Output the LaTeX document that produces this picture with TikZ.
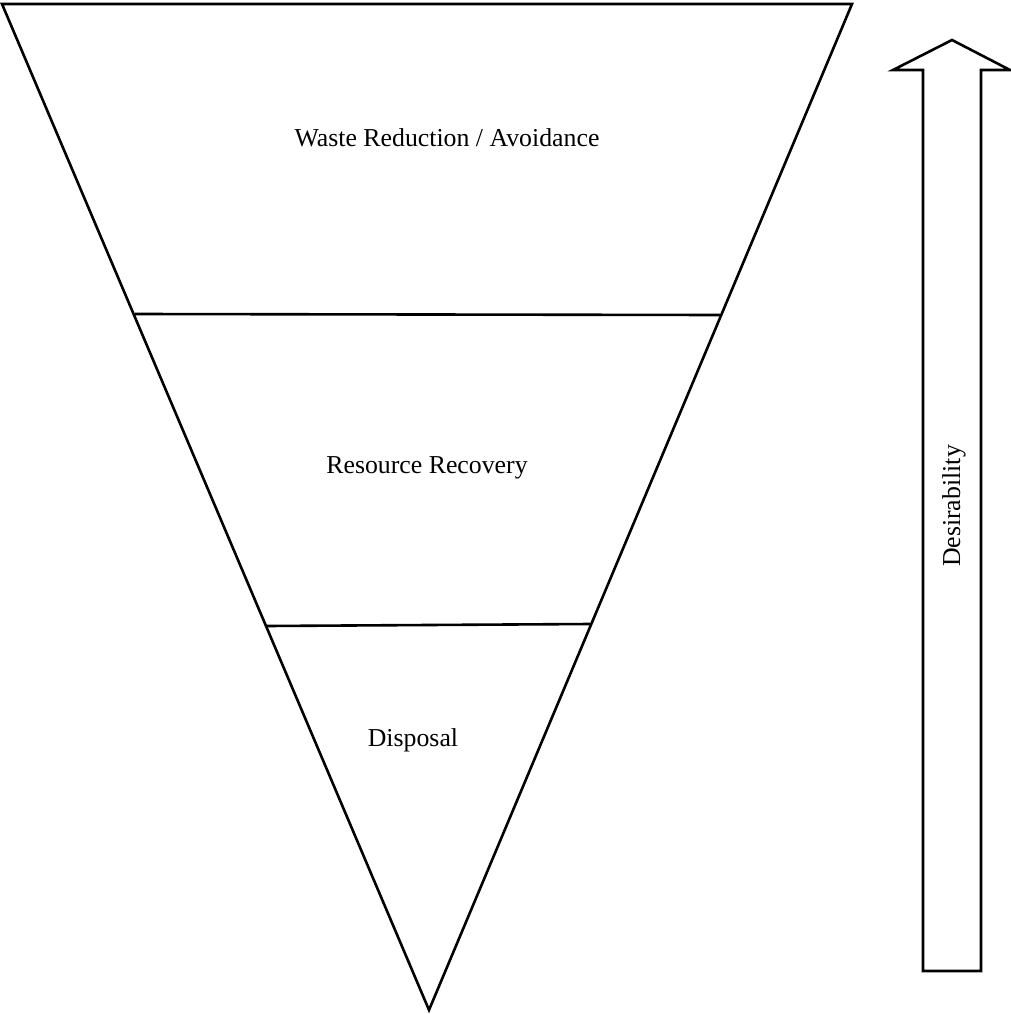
\documentclass[tikz,border=0pt]{standalone}
\usepackage{fontspec}
\setmainfont{Liberation Serif}
\begin{document}
\begin{tikzpicture}[x=1pt,y=-1pt,
  outline/.style={draw=black,line width=2.6pt,line join=miter},
  lbl/.style={font=\fontsize{25.8}{30}\selectfont,inner sep=0pt}]
\useasboundingbox (0,0) rectangle (1011,1014);
% triangle corners
\coordinate (tl) at (2,4);
\coordinate (tr) at (852,4);
\coordinate (ap) at (429,1010);
\draw[outline] (tl) -- (tr) -- (ap) -- cycle;
% divider lines
\coordinate (l1) at (135,314);
\coordinate (r1) at (720,315);
\coordinate (l2) at (267,626);
\coordinate (r2) at (590,624);
\draw[outline] (l1) -- (r1);
\draw[outline] (l2) -- (r2);
% labels
\node[lbl] (waste) at (447,138) {Waste Reduction / Avoidance};
\node[lbl] (resource) at (427,468) {Resource Recovery};
\node[lbl] (disposal) at (413,740) {Disposal};
% arrow
\coordinate (tip) at (952,40);
\draw[outline] (923,971) -- (923,70) -- (893,70) -- (tip) -- (1010,70) -- (981,70) -- (981,971) -- cycle;
\node[lbl,rotate=90] (desir) at (954,506) {Desirability};
\end{tikzpicture}
\end{document}
